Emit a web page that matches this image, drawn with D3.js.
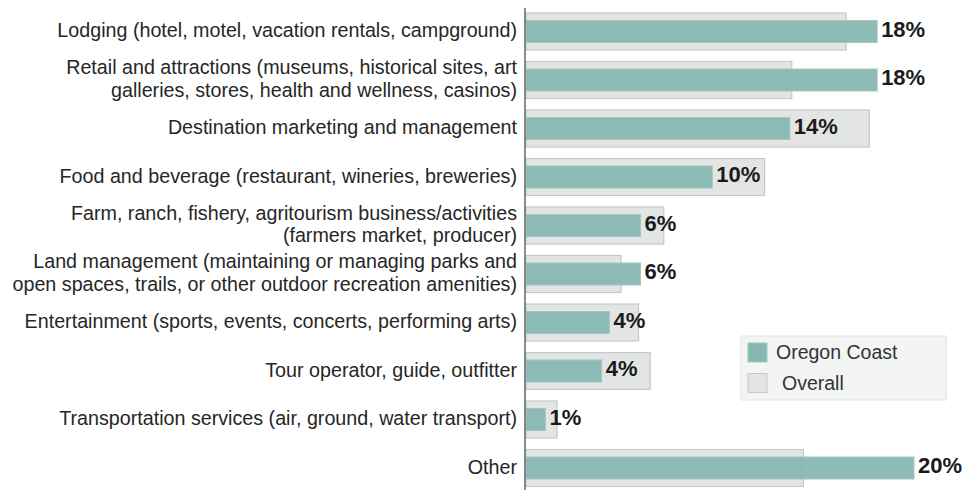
<!DOCTYPE html>
<html>
<head>
<meta charset="utf-8">
<script src="https://cdn.jsdelivr.net/npm/d3@7"></script>
<style>
  body { margin: 0; background: #fff; }
  svg { display: block; font-family: "Liberation Sans", Arial, sans-serif; }
</style>
</head>
<body>
<div id="container"></div>
<script>
const width = 965;
const height = 490;

// categories (each entry is the list of label lines)
const categories = [
	["Lodging (hotel, motel, vacation rentals, campground)"],
	["Retail and attractions (museums, historical sites, art", "galleries, stores, health and wellness, casinos)"],
	["Destination marketing and management"],
	["Food and beverage (restaurant, wineries, breweries)"],
	["Farm, ranch, fishery, agritourism business/activities", "(farmers market, producer)"],
	["Land management (maintaining or managing parks and", "open spaces, trails, or other outdoor recreation amenities)"],
	["Entertainment (sports, events, concerts, performing arts)"],
	["Tour operator, guide, outfitter"],
	["Transportation services (air, ground, water transport)"],
	["Other"]
];
const oregonCoast = [18.1, 18.1, 13.6, 9.6, 5.9, 5.9, 4.3, 3.9, 1.0, 20.0];
const overall = [16.5, 13.7, 17.7, 12.3, 7.1, 4.9, 5.8, 6.4, 1.6, 14.3];
const valueLabels = ["18%", "18%", "14%", "10%", "6%", "6%", "4%", "4%", "1%", "20%"];
const seriesNames = ["Oregon Coast", "Overall"];

const axisX = 525;

const svg = d3.select("#container")
	.append("svg")
	.attr("width", width)
	.attr("height", height);

const x = d3.scaleLinear()
	.domain([0, 20])
	.range([axisX + 1, 914]);

const y = d3.scaleBand()
	.domain(d3.range(categories.length))
	.range([7.25, 492.25])
	.padding(0);

const rowH = y.bandwidth();

// overall bars (behind)
svg.selectAll("rect.overall")
	.data(overall)
	.enter()
	.append("rect")
	.attr("class", "overall")
	.attr("x", x(0))
	.attr("y", (d, i) => y(i) + rowH / 2 - 18.5)
	.attr("width", d => x(d) - x(0))
	.attr("height", 37)
	.attr("fill", "#e2e5e4")
	.attr("stroke", "#c6c8c8")
	.attr("stroke-width", 1.2);

// Oregon coast bars (front)
svg.selectAll("rect.oc")
	.data(oregonCoast)
	.enter()
	.append("rect")
	.attr("class", "oc")
	.attr("x", x(0))
	.attr("y", (d, i) => y(i) + rowH / 2 - 11)
	.attr("width", d => x(d) - x(0))
	.attr("height", 22)
	.attr("fill", "#84b7b2")
	.attr("fill-opacity", 0.92)
	.attr("stroke", "#a8c4c1")
	.attr("stroke-width", 1);

// value labels
svg.selectAll("text.val")
	.data(oregonCoast)
	.enter()
	.append("text")
	.attr("class", "val")
	.attr("x", d => x(d) + 4)
	.attr("y", (d, i) => y(i) + rowH / 2 - 2.5)
	.attr("dy", "0.36em")
	.attr("font-size", 22)
	.attr("font-weight", "bold")
	.attr("fill", "#1b1b1b")
	.text((d, i) => valueLabels[i]);

// category labels
const labels = svg.selectAll("text.cat")
	.data(categories)
	.enter()
	.append("text")
	.attr("class", "cat")
	.attr("text-anchor", "end")
	.attr("font-size", 19.7)
	.attr("fill", "#262626");

labels.each(function(lines, i) {
	const t = d3.select(this);
	const lh = 22.5;
	const top = y(i) + rowH / 2 - 1.5 - (lines.length - 1) * lh / 2;
	lines.forEach((ln, k) => {
		t.append("tspan")
			.attr("x", 517)
			.attr("y", top + k * lh)
			.attr("dy", "0.36em")
			.text(ln);
	});
});

// axis line
svg.append("line")
	.attr("x1", axisX)
	.attr("x2", axisX)
	.attr("y1", 8)
	.attr("y2", height)
	.attr("stroke", "#666")
	.attr("stroke-width", 1.5);

// legend
const legend = svg.append("g").attr("transform", "translate(741,336)");
legend.append("rect")
	.attr("width", 205)
	.attr("height", 64)
	.attr("fill", "#f3f4f4")
	.attr("stroke", "#e4e6e6")
	.attr("stroke-width", 1.2);

const legendFill = ["#84b7b2", "#e2e5e4"];
const legendStroke = ["#a8c4c1", "#c6c8c8"];
const items = legend.selectAll("g.item")
	.data(seriesNames)
	.enter()
	.append("g")
	.attr("class", "item")
	.attr("transform", (d, i) => "translate(7," + (7 + i * 30.5) + ")");
items.append("rect")
	.attr("width", 19)
	.attr("height", 19)
	.attr("fill", (d, i) => legendFill[i])
	.attr("stroke", (d, i) => legendStroke[i]);
items.append("text")
	.attr("x", (d, i) => i === 0 ? 28 : 34)
	.attr("y", 9)
	.attr("dy", "0.36em")
	.attr("font-size", 19.5)
	.attr("fill", "#333")
	.text(d => d);
</script>
</body>
</html>
